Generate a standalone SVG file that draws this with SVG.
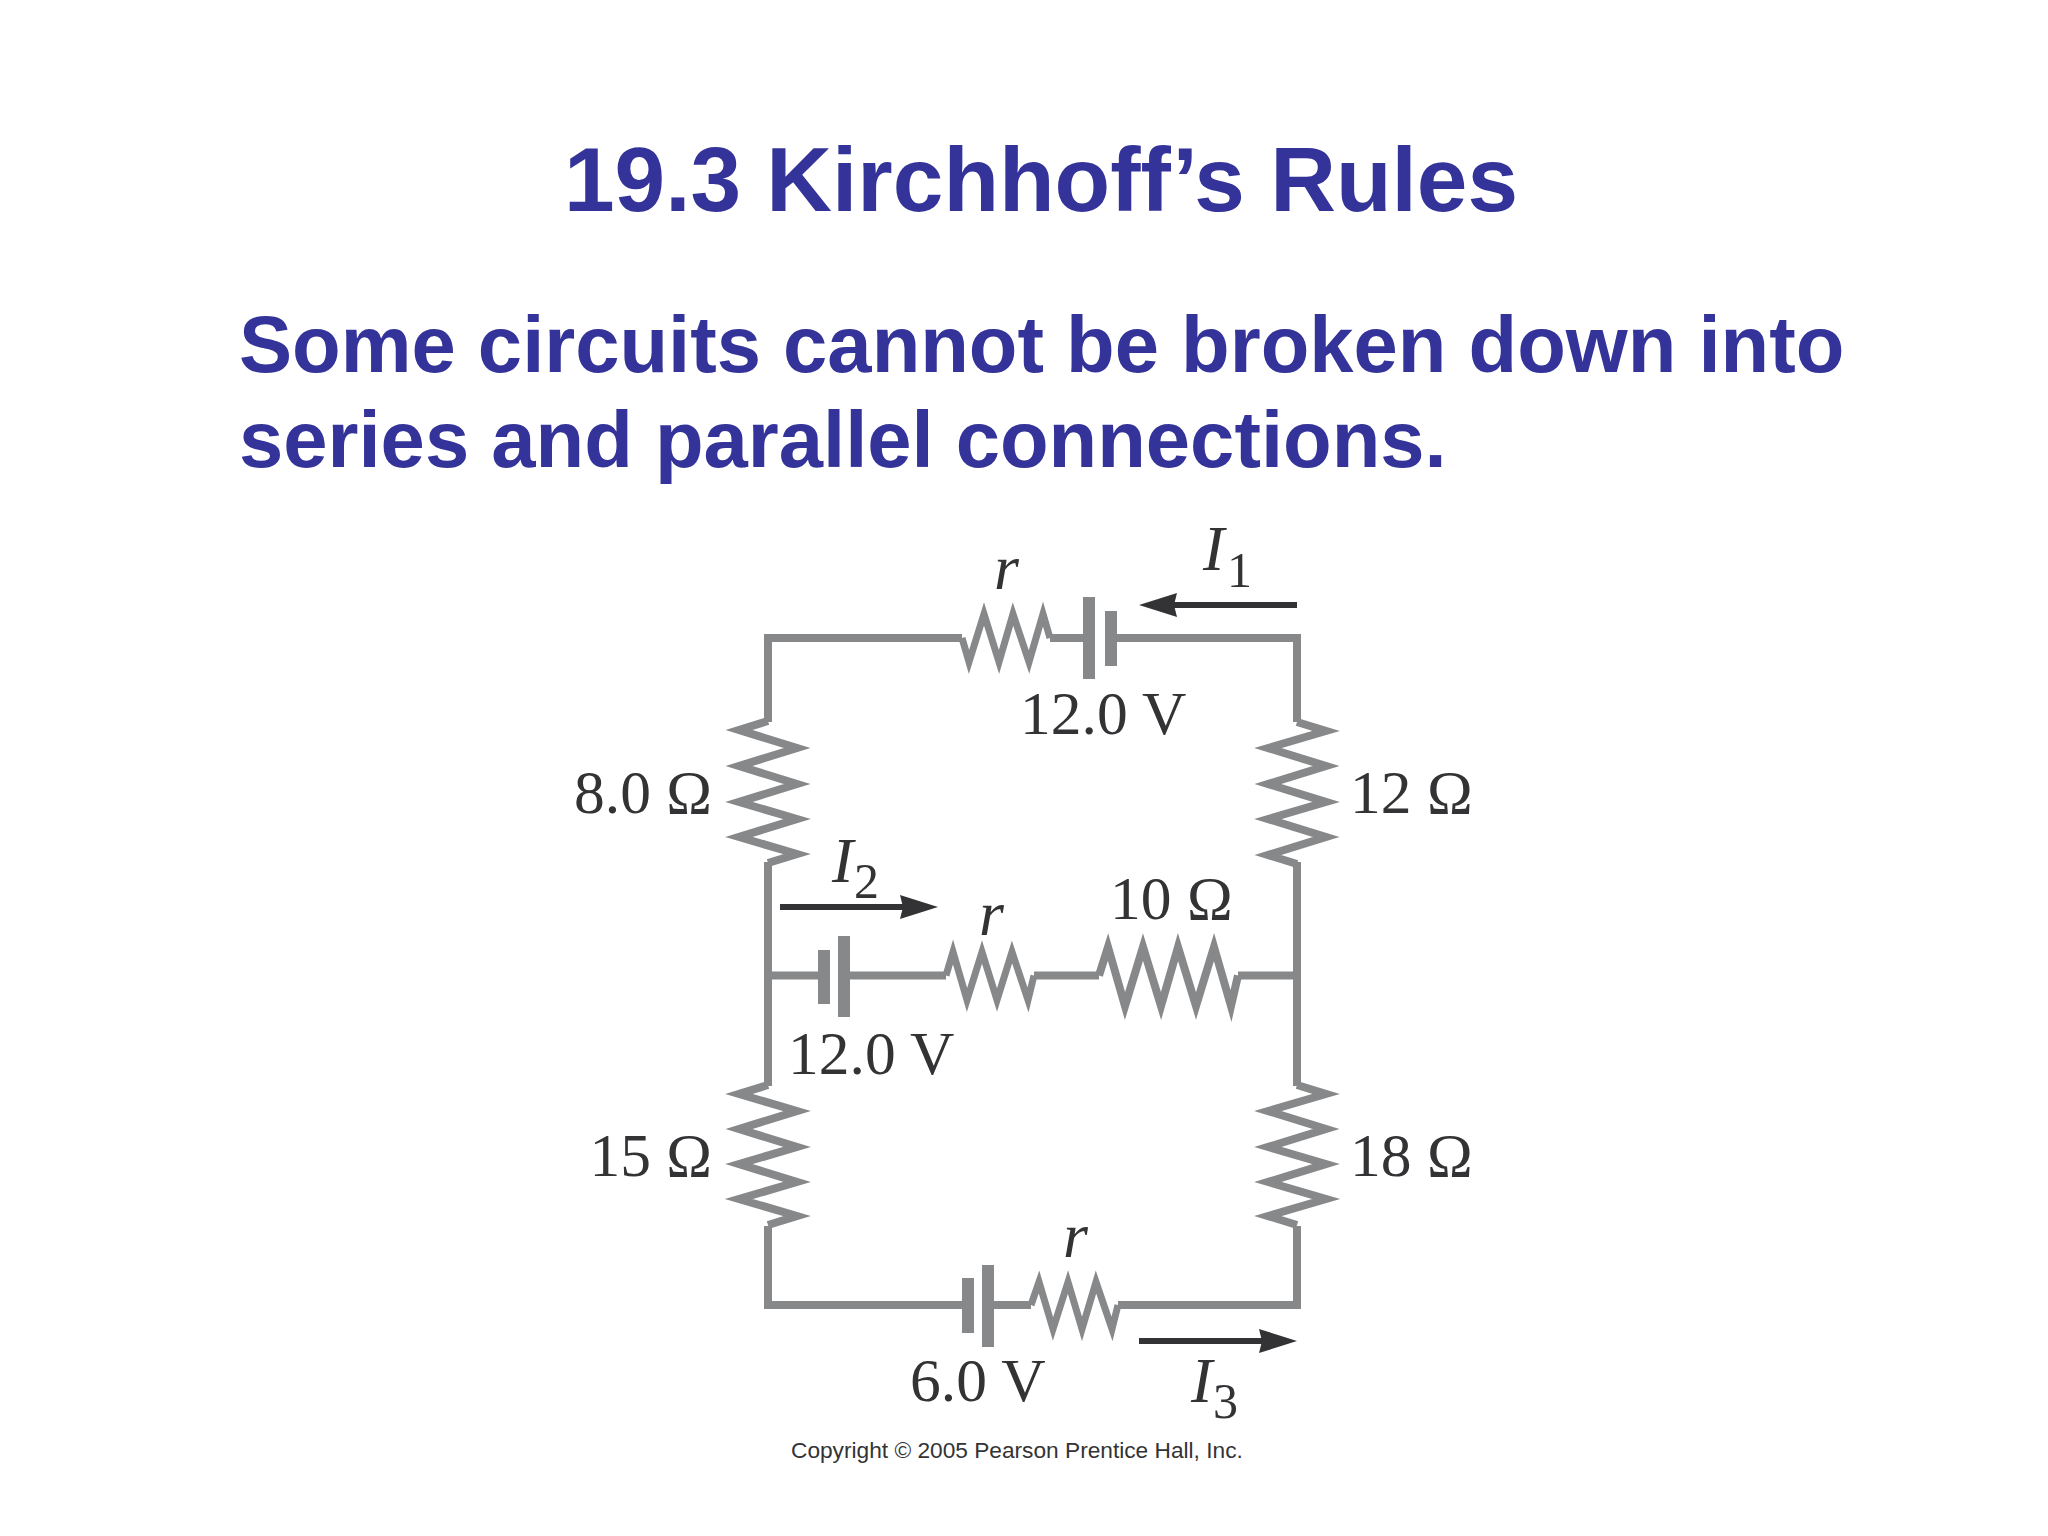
<svg xmlns="http://www.w3.org/2000/svg" width="2048" height="1536" viewBox="0 0 2048 1536">
<style>
.h{font-family:"Liberation Sans",Arial,sans-serif;font-weight:700;fill:#333399}
.l{font-family:"Liberation Serif","Times New Roman",serif;font-size:61.5px;fill:#333336}
.v{font-style:italic;font-size:64px}
.s{font-size:50px}
.w{fill:none;stroke:#87888a;stroke-width:8;stroke-linejoin:miter;stroke-miterlimit:12}
.t{stroke-width:7}
.p{fill:#87888a}
.a{fill:none;stroke:#333336;stroke-width:6}
</style>
<defs>
<marker id="ah" markerUnits="userSpaceOnUse" markerWidth="42" markerHeight="28" refX="18" refY="12" orient="auto">
<path d="M0,0 L38,12 L0,24 L3,12 Z" fill="#333336"/>
</marker>
</defs>
<rect width="2048" height="1536" fill="#ffffff"/>
<g id="heading">
<text class="h" x="1041" y="211" font-size="91" text-anchor="middle">19.3 Kirchhoff’s Rules</text>
<text class="h" x="239" y="372" font-size="79.6">Some circuits cannot be broken down into</text>
<text class="h" x="239" y="467" font-size="79.6">series and parallel connections.</text>
</g>
<g id="connectors">
<path class="w" d="M962,638 H768 V722"/>
<path class="w" d="M1050,638 H1089"/>
<path class="w" d="M1111,638 H1297 V722"/>
<path class="w" d="M768,862 V1086"/>
<path class="w" d="M1297,862 V1086"/>
<path class="w" d="M768,975.5 H824"/>
<path class="w" d="M844,975.5 H946"/>
<path class="w" d="M1034,975.5 H1099"/>
<path class="w" d="M1238,975.5 H1297"/>
<path class="w" d="M768,1226 V1305 H968"/>
<path class="w" d="M988,1305 H1031"/>
<path class="w" d="M1118,1305 H1297 V1226"/>
<line id="arrow-i1" class="a" x1="1297" y1="605" x2="1159" y2="605" marker-end="url(#ah)"/>
<line id="arrow-i2" class="a" x1="780" y1="907" x2="918" y2="907" marker-end="url(#ah)"/>
<line id="arrow-i3" class="a" x1="1139" y1="1341" x2="1277" y2="1341" marker-end="url(#ah)"/>
</g>
<g id="r-top"><path class="w t" d="M962,638 L969,662 L984,614 L999,662 L1013,614 L1029,662 L1043,614 L1050,638"/><text class="l v" x="994" y="589">r</text></g>
<g id="battery-top"><rect class="p" x="1083" y="597" width="12" height="82"/><rect class="p" x="1105" y="611" width="12" height="55"/><text class="l" x="1020" y="734">12.0 V</text></g>
<g id="r-8"><path class="w" d="M768,721 L739,730 L797,748 L739,766 L797,784 L739,802 L797,819 L739,837 L797,854 L768,863"/><text class="l" x="712" y="813" text-anchor="end">8.0 Ω</text></g>
<g id="r-12"><path class="w" d="M1297,722 L1326,731 L1268,748 L1326,766 L1268,784 L1326,802 L1268,819 L1326,837 L1268,855 L1297,864"/><text class="l" x="1350" y="813">12 Ω</text></g>
<g id="battery-mid"><rect class="p" x="818" y="950" width="12" height="54"/><rect class="p" x="838" y="936" width="12" height="81"/><text class="l" x="788" y="1074">12.0 V</text></g>
<g id="r-mid"><path class="w t" d="M946,975.5 L953,952 L967,1000 L982,952 L997,1000 L1012,952 L1028,1000 L1034,975.5"/><text class="l v" x="979" y="935">r</text></g>
<g id="r-10"><path class="w" d="M1099,975.5 L1108,947 L1125,1006 L1143,947 L1161,1006 L1178,947 L1196,1006 L1214,947 L1231,1006 L1238,975.5"/><text class="l" x="1110" y="919">10 Ω</text></g>
<g id="r-15"><path class="w" d="M768,1085 L739,1094 L797,1111 L739,1129 L797,1147 L739,1164 L797,1182 L739,1199 L797,1216 L768,1225"/><text class="l" x="712" y="1176" text-anchor="end">15 Ω</text></g>
<g id="r-18"><path class="w" d="M1297,1085 L1326,1094 L1268,1111 L1326,1129 L1268,1147 L1326,1164 L1268,1182 L1326,1199 L1268,1216 L1297,1225"/><text class="l" x="1350" y="1176">18 Ω</text></g>
<g id="battery-bottom"><rect class="p" x="962" y="1278" width="12" height="55"/><rect class="p" x="982" y="1265" width="12" height="82"/><text class="l" x="910" y="1401">6.0 V</text></g>
<g id="r-bottom"><path class="w t" d="M1031,1305 L1039,1282 L1053,1329 L1068,1282 L1082,1329 L1096,1282 L1112,1329 L1118,1305"/><text class="l v" x="1063" y="1257">r</text></g>
<g id="label-i1"><text class="l v" x="1203" y="570">I</text><text class="l s" x="1227" y="587">1</text></g>
<g id="label-i2"><text class="l v" x="832" y="882">I</text><text class="l s" x="854" y="898">2</text></g>
<g id="label-i3"><text class="l v" x="1191" y="1402">I</text><text class="l s" x="1213" y="1418">3</text></g>
<text id="copyright" x="791" y="1458" font-family="'Liberation Sans',Arial,sans-serif" font-size="22.7" fill="#333336">Copyright © 2005 Pearson Prentice Hall, Inc.</text>
</svg>
